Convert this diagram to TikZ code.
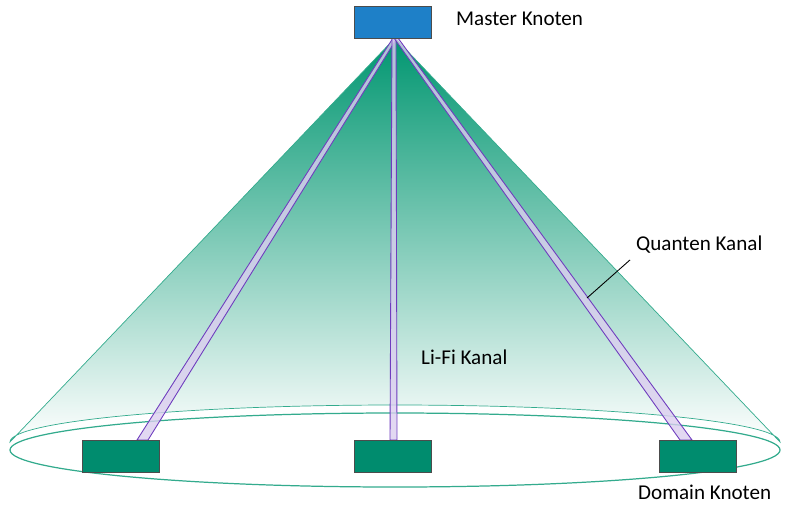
\documentclass[tikz,border=0pt]{standalone}
\usepackage{fontspec}
\setmainfont{Carlito}
\definecolor{conegreen}{RGB}{0,150,112}
\definecolor{boxgreen}{RGB}{0,140,110}
\definecolor{masterblue}{RGB}{30,128,200}
\definecolor{chanpurple}{RGB}{110,60,190}
\begin{document}
\begin{tikzpicture}[x=0.02cm,y=-0.02cm]
  \tikzset{
    knoten/.style={draw=black!70,minimum width=1.54cm,minimum height=0.64cm,inner sep=0pt},
    kanal/.style={draw=chanpurple,line width=0.5pt,fill=chanpurple!25,fill opacity=0.8},
    beschriftung/.style={font=\fontsize{12}{14}\selectfont,anchor=west}
  }
  \useasboundingbox (0,0) rectangle (800,518);
  % cone
  \coordinate (apex) at (395,38);
  \shade[top color=conegreen,bottom color=white,draw=conegreen!80]
    (apex) -- (10,442) arc[start angle=180,end angle=360,x radius=385,y radius=37] -- cycle;
  \draw[conegreen!80,line width=0.7pt] (395,450) ellipse[x radius=385,y radius=37];
  % channels
  \fill[kanal] (393,38) -- (137,440) -- (148,440) -- (397,38) -- cycle;
  \fill[kanal] (392,38) -- (390,440) -- (397,440) -- (396,38) -- cycle;
  \fill[kanal] (394,38) -- (680,440) -- (692,440) -- (398,38) -- cycle;
  % nodes
  \node[knoten,fill=masterblue] (master) at (393,22) {};
  \node[knoten,fill=boxgreen] (d1) at (121,456) {};
  \node[knoten,fill=boxgreen] (d2) at (393,456) {};
  \node[knoten,fill=boxgreen] (d3) at (698,456) {};
  % labels
  \node[beschriftung] (lmaster) at (450,19) {Master Knoten};
  \node[beschriftung] (lquant) at (630,245) {Quanten Kanal};
  \node[beschriftung] (llifi) at (415,357) {Li-Fi Kanal};
  \node[beschriftung] (ldomain) at (632,492) {Domain Knoten};
  \coordinate (qpunkt) at (587,298);
  \draw[black,line width=0.5pt] (qpunkt) -- (lquant.south west);
\end{tikzpicture}
\end{document}
